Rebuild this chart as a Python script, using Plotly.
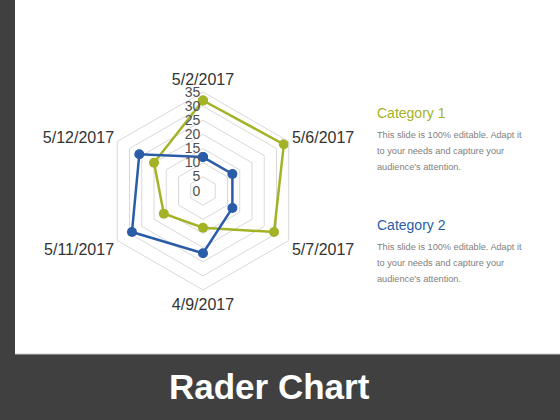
import plotly.graph_objects as go

# axis categories, clockwise from the top
dates = ["5/2/2017", "5/6/2017", "5/7/2017", "4/9/2017", "5/11/2017", "5/12/2017"]
cat1 = [32, 33, 29, 13, 16, 20]
cat2 = [12, 12, 12, 22, 29, 26]
radial_ticks = [0, 5, 10, 15, 20, 25, 30, 35]

green = "#a4b226"
blue = "#2a5ca8"
body_lines = ["This slide is 100% editable. Adapt it",
              "to your needs and capture your",
              "audience's attention."]

fig = go.Figure()
for name, vals, col in [("Category 1", cat1, green), ("Category 2", cat2, blue)]:
    # close the loop
    fig.add_trace(go.Scatterpolar(r=vals + vals[:1], theta=dates + dates[:1],
                                  mode="lines+markers", name=name,
                                  line=dict(color=col, width=2.5),
                                  marker=dict(size=10, color=col)))

W, H = 560, 420


def px_x(x):
    return x / W


def px_y(y):
    return (H - y) / H


fig.update_layout(
    width=W, height=H,
    margin=dict(l=0, r=0, t=0, b=0),
    paper_bgcolor="white",
    showlegend=False,
    font=dict(family="Liberation Sans, Arial, sans-serif"),
    polar=dict(
        domain=dict(x=[px_x(104), px_x(302)], y=[px_y(290), px_y(92)]),
        gridshape="linear",
        bgcolor="white",
        radialaxis=dict(range=[0, 35], tickvals=radial_ticks, angle=90,
                        tickangle=90, side="counterclockwise",
                        showline=False, ticks="",
                        gridcolor="#d9d9d9", gridwidth=1,
                        tickfont=dict(size=14, color="#505050")),
        angularaxis=dict(direction="clockwise", rotation=90,
                         showgrid=False, showline=True, linecolor="#d9d9d9",
                         ticks="", tickfont=dict(size=16, color="#333333")),
    ),
    shapes=[
        dict(type="rect", xref="paper", yref="paper", x0=0, x1=px_x(15), y0=0, y1=1,
             fillcolor="#404040", line_width=0, layer="below"),
        dict(type="rect", xref="paper", yref="paper", x0=0, x1=1, y0=0, y1=px_y(354),
             fillcolor="#404040", line_width=0, layer="below"),
        dict(type="line", xref="paper", yref="paper", x0=px_x(15), x1=1, y0=px_y(354), y1=px_y(354),
             line=dict(color="#c8c8c8", width=1)),
    ],
)

fig.add_annotation(text="<b>Rader Chart</b>", x=px_x(269), y=px_y(386), xref="paper", yref="paper",
                   showarrow=False, font=dict(size=35, color="white"),
                   xanchor="center", yanchor="middle")

for label, col, y0 in [("Category 1", green, 113), ("Category 2", blue, 225)]:
    fig.add_annotation(text=label, x=px_x(375), y=px_y(y0), xref="paper", yref="paper",
                       showarrow=False, font=dict(size=14, color=col),
                       xanchor="left", yanchor="middle")
    for i, line in enumerate(body_lines):
        fig.add_annotation(text=line, x=px_x(375), y=px_y(y0 + 22 + 16 * i), xref="paper", yref="paper",
                           showarrow=False, font=dict(size=9.2, color="#808080"),
                           xanchor="left", yanchor="middle")

fig.write_html("out.html", config={"displayModeBar": False},
               post_script="document.body.style.margin='0';document.body.style.overflow='hidden';")
